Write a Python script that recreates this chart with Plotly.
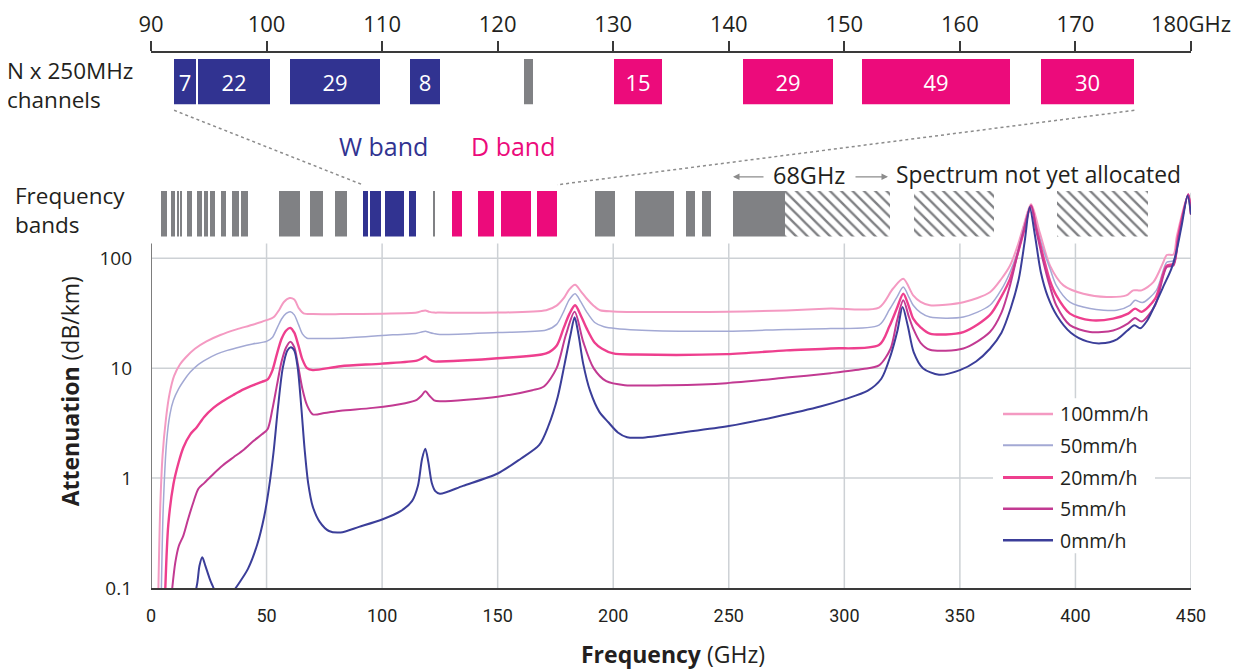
import plotly.graph_objects as go

# ---------------- data ----------------
rain_labels = ["100mm/h", "50mm/h", "20mm/h", "5mm/h", "0mm/h"]

freq_100 = [3.2, 4.0, 5, 6.5, 8, 10, 12.5, 15, 19, 24, 30, 37, 44, 50, 53, 55.5, 57.5, 60, 62, 64, 66, 70, 82,
            100, 115, 117, 118.7, 120.5, 122.5, 125, 150, 171, 175.5, 178.5, 181, 183.5, 186, 188.5, 191.5, 194.3,
            200, 249, 275, 294, 315, 321, 325.5, 329.8, 333, 337, 351.5, 363, 368, 371.7, 375, 377.5, 380.8,
            384.6, 389, 394.8, 403.4, 413.5, 422, 425, 428.6, 433.7, 438, 439.5, 442.4, 443.9, 448.8, 450]
att_100 = [0.1, 0.54, 1.6, 3.5, 5.8, 8.5, 10.8, 12.5, 15, 17.5, 20, 22.5, 24.8, 27.3, 29, 34, 40, 43.4, 42, 35,
           31.5, 31, 31, 31.3, 32, 33, 33.5, 32.5, 32, 32, 32, 33.6, 37, 43, 52, 57.3, 50, 43, 37, 33.6,
           32.8, 32.6, 33.5, 34.8, 35.5, 52.7, 64.9, 45.9, 40, 37.3, 39.8, 49, 65, 85.7, 130, 195, 309,
           170, 85.7, 56.6, 47.5, 44.4, 45.9, 51, 51, 60.5, 91.8, 107, 108, 160, 380, 250]

freq_50 = [4.5, 5.3, 6.8, 8.2, 9.7, 12, 14, 17, 19.8, 24, 28.4, 33, 38.5, 44, 50, 52.5, 54.5, 56.5, 58.5, 60.3,
           62, 63.8, 65.5, 67.5, 70, 82, 100, 115, 117, 118.7, 120.5, 122.5, 125, 150, 171, 175.5, 178.5, 181,
           183.5, 186, 188.5, 192, 196, 210, 249, 275, 294, 315, 319.5, 322.7, 325.5, 328, 329.8, 333, 337,
           351.5, 363, 368, 371.7, 375, 377.5, 380.8, 383, 386, 389, 391.7, 397.6, 406.3, 417.8, 423.6, 425.8,
           429, 435, 439.5, 442.4, 444.5, 448.8, 450]
att_50 = [0.1, 0.54, 2.2, 3.8, 5.1, 6.5, 7.6, 9.2, 10.5, 12, 13.4, 14.5, 15.6, 16.6, 17.5, 19, 23, 28, 31.5, 32.6,
          30.5, 25, 20.5, 18.7, 18.6, 18.7, 19.8, 20.8, 21.3, 21.7, 21.1, 20.6, 20.2, 21.1, 22.2, 25, 32.5, 42,
          47.5, 40, 32.5, 26, 23.8, 22.2, 21.7, 22.5, 22.9, 24.6, 34, 44, 54.6, 44, 37.3, 32, 29.2,
          29.2, 37.3, 52, 74.6, 115, 184, 300, 200, 121, 80, 56.6, 39.8, 34.8, 33.6, 37.3, 41.4,
          39.5, 51, 91.8, 95, 150, 380, 250]

freq_20 = [6.2, 7.5, 9.7, 12, 14, 17, 19.8, 23, 27, 31, 35.6, 40, 44.3, 48, 50.5, 52.5, 54.5, 56.5, 58.5, 60.3,
           62, 63.8, 65.5, 67.5, 70, 82, 100, 115, 117, 118.7, 120.5, 122.5, 125, 150, 171, 175.5, 178.5, 181,
           183.5, 186, 188.5, 192, 195, 200, 210, 249, 275, 294, 315, 319.5, 322.7, 325.5, 328, 329.8, 333,
           337, 351.5, 363, 368, 371.7, 375, 377.5, 380.8, 383, 386, 389, 391.7, 397.6, 406.3, 416.3, 422.8,
           425.8, 428.6, 434.5, 439.5, 442.4, 444.5, 448.8, 450]
att_20 = [0.1, 0.38, 0.88, 1.4, 1.9, 2.5, 2.9, 3.6, 4.35, 5.0, 5.7, 6.4, 7.0, 7.5, 7.9, 9.5, 13.5, 18.5, 22, 23.2,
          21, 16, 12, 10, 9.6, 10.4, 11, 11.7, 12.2, 12.8, 12.0, 11.5, 11.5, 12.3, 13.6, 16, 23, 31,
          37.3, 30, 23, 17, 15.1, 13.6, 13.3, 13.4, 14.5, 15.1, 16.2, 24, 34.8, 47.5, 36, 28.2, 23.5,
          20.6, 21.3, 30.5, 45, 64.9, 110, 170, 300, 190, 105, 62, 45.9, 31.3, 27.3, 28.2, 31.3,
          34.8, 32.5, 42.9, 85.7, 89, 160, 380, 250]

freq_5 = [9.2, 10.5, 12, 14, 16, 18.3, 20.5, 23, 27, 31, 35.6, 40, 44.3, 48, 50.5, 52.5, 54.5, 56.5, 58.5, 60.3,
          62, 63.5, 65.5, 67.5, 70, 75, 82, 96, 110, 115, 117, 118.7, 120.5, 122.5, 125, 150, 165, 170, 175.5,
          179.5, 183.3, 187, 191.5, 197, 205, 225, 249, 275, 294, 308, 315, 320, 322.7, 325.5, 328, 329.8, 333,
          337, 351.5, 363, 368, 371.7, 375, 377.5, 380.8, 383, 386, 389, 391.7, 397.6, 406.3, 416.3, 422.8,
          425.8, 428.6, 434.5, 439.5, 442.4, 444.5, 448.8, 450]
att_5 = [0.1, 0.17, 0.24, 0.3, 0.42, 0.6, 0.8, 0.9, 1.09, 1.3, 1.54, 1.8, 2.17, 2.5, 2.8, 4.2, 7, 11.5, 15.5, 17.4,
         15.5, 11, 6.5, 4.6, 3.8, 3.9, 4.1, 4.35, 4.8, 5.15, 5.6, 6.15, 5.6, 5.1, 5.0, 5.5, 6.3, 6.8, 10,
         20, 32.5, 17.4, 10, 7.6, 7.0, 7.0, 7.3, 8.2, 9.0, 9.8, 10.6, 15, 26.4, 41.4, 29, 22.9, 17,
         14.7, 15.1, 21.3, 32, 56.6, 110, 175, 300, 180, 95, 55, 37.3, 24.6, 21.3, 22, 25.5,
         28.6, 26.5, 37.3, 83, 85.7, 150, 380, 250]

freq_0 = [18, 20, 21, 22.2, 23.5, 25.5, 27.5, 30, 35, 38, 42, 46, 49, 51, 53, 55, 57, 59, 60.5, 62, 63.5, 65,
          66.5, 68, 70, 73, 77, 82, 90, 100, 108, 113, 115.5, 117.3, 118.7, 120, 121.5, 123, 125, 135, 150,
          160, 168, 172, 176, 179, 181.5, 183.3, 185, 187, 190, 194, 198, 202, 206, 212, 230, 250, 270, 290,
          300, 310, 316, 320, 323, 325.2, 327.5, 330, 334, 341, 350, 357, 363, 368, 372, 375.5, 378, 380.2,
          382.5, 385, 388, 392, 398, 405, 411, 418, 422.5, 425.5, 428, 431, 435, 438.5, 441.5, 443.5, 446,
          448.5, 450]
att_0 = [0.07, 0.11, 0.16, 0.19, 0.16, 0.12, 0.095, 0.07, 0.09, 0.11, 0.15, 0.25, 0.45, 0.8, 1.7, 4.5, 10, 14.5,
         15.5, 14.5, 10, 4.5, 1.8, 0.9, 0.55, 0.4, 0.33, 0.32, 0.36, 0.42, 0.5, 0.62, 0.85, 1.5, 1.85, 1.4,
         0.9, 0.76, 0.72, 0.85, 1.1, 1.5, 2.0, 3.0, 5.5, 11, 20, 29, 20, 11, 6.2, 4, 3.2, 2.6, 2.35, 2.33,
         2.6, 2.97, 3.6, 4.5, 5.2, 6.2, 8, 13, 22, 36, 24, 14, 10, 8.7, 9.6, 11.5, 15, 21, 35, 65, 140, 290,
         160, 75, 45, 30, 21, 17.5, 16.8, 18.3, 22, 24.6, 23, 27, 40, 58, 80, 110, 200, 370, 250]

# frequency-band allocations on the main axis (GHz)
gray_band_lo = [4.2, 8.5, 11.1, 12.5, 15.6, 19.9, 22.8, 25.5, 30.4, 34.9, 39.1, 55.5, 68.9, 79.6,
                122.2, 192.1, 209.4, 231.3, 238.2, 251.9]
gray_band_hi = [7.0, 10.5, 12.0, 13.4, 17.9, 22.2, 24.8, 27.7, 32.6, 38.2, 42.0, 64.6, 74.6, 84.7,
                123.0, 200.6, 226.1, 235.3, 242.1, 274.5]
w_band_lo = [91.6, 94.6, 101.1, 111.8]
w_band_hi = [93.9, 99.5, 109.6, 114.5]
d_band_lo = [130.1, 141.6, 151.6, 167.2]
d_band_hi = [134.4, 148.5, 164.3, 175.7]
unalloc_lo = [274.5, 330.1, 392.2]
unalloc_hi = [319.6, 364.9, 431.5]

# channel groups on the zoomed top axis (GHz), N x 250MHz channels
w_chan_lo = [92.0, 94.1, 102.0, 112.4]
w_chan_hi = [93.9, 100.3, 109.8, 115.0]
w_chan_n = [7, 22, 29, 8]
other_chan_lo = [122.3]
other_chan_hi = [123.1]
d_chan_lo = [130.1, 141.2, 151.5, 167.0]
d_chan_hi = [134.2, 149.0, 164.3, 175.1]
d_chan_n = [15, 29, 49, 30]

x_ticks = [0, 50, 100, 150, 200, 250, 300, 350, 400, 450]
top_ticks = [90, 100, 110, 120, 130, 140, 150, 160, 170, 180]
top_tick_text = ["90", "100", "110", "120", "130", "140", "150", "160", "170", "180GHz"]
y_ticks = [0.1, 1, 10, 100]
y_tick_text = ["0.1", "1", "10", "100"]

# ---------------- styling ----------------
TXT = "#231f20"
C100, C50, C20, C5, C0 = "#F49AC2", "#A3A9D4", "#EE3F8E", "#C23A92", "#3B3E99"
W_BLUE, D_PINK, GRAY = "#313391", "#EC0B7B", "#808184"
GRID = "#cdd1d5"
FONT = "Open Sans"

# page has an 8px body margin: figure is placed at (8, 8) in the window
OFF = 8
W, H = 1243 - OFF, 670 - OFF
BOTTOM = 588                      # page y of the 0.1 dB/km baseline
LEFT = 151                        # page x of 0 GHz
PW = 1040
PH = BOTTOM - OFF
ML, MT = LEFT - OFF, 0
MR, MB = W - ML - PW, H - PH
DEC = 110.7                       # pixels per decade on the log axis
Y_LO = -1
Y_HI = Y_LO + (BOTTOM - 185) / DEC


def px(p):          # page x -> paper
    return (p - LEFT) / PW


def py(p):          # page y -> paper
    return (BOTTOM - p) / PH


def xval(p):        # page x -> main axis GHz
    return (p - LEFT) / PW * 450


def yval(p):        # page y -> main axis dB/km
    return 10 ** (Y_LO + (BOTTOM - p) / DEC)


series = [
    ("100mm/h", freq_100, att_100, C100, 2.0),
    ("50mm/h", freq_50, att_50, C50, 1.5),
    ("20mm/h", freq_20, att_20, C20, 2.4),
    ("5mm/h", freq_5, att_5, C5, 2.0),
    ("0mm/h", freq_0, att_0, C0, 2.0),
]

fig = go.Figure()

for name, f, a, c, w in series:
    fig.add_trace(go.Scatter(x=f, y=a, mode="lines", name=name, xaxis="x", yaxis="y",
                             line=dict(color=c, width=w, shape="spline", smoothing=0.8),
                             hoverinfo="x+y+name"))


def bars(lo, hi, color, xa, ya, text=None, pattern=None):
    centers = [(a + b) / 2 for a, b in zip(lo, hi)]
    widths = [b - a for a, b in zip(lo, hi)]
    marker = dict(color=color, line=dict(width=0))
    if pattern:
        marker["pattern"] = pattern
    return go.Bar(x=centers, y=[1] * len(lo), base=0, width=widths, xaxis=xa, yaxis=ya,
                  marker=marker, text=text, textposition="inside" if text else "none",
                  insidetextanchor="middle", textangle=0, constraintext="none",
                  textfont=dict(color="white", size=22, family=FONT),
                  showlegend=False, hoverinfo="skip")


# frequency bands row
fig.add_trace(bars(gray_band_lo, gray_band_hi, GRAY, "x", "y2"))
fig.add_trace(bars(w_band_lo, w_band_hi, W_BLUE, "x", "y2"))
fig.add_trace(bars(d_band_lo, d_band_hi, D_PINK, "x", "y2"))
fig.add_trace(bars(unalloc_lo, unalloc_hi, GRAY, "x", "y2",
                   pattern=dict(shape="\\", fgcolor="#808184", bgcolor="white",
                                size=8, solidity=0.3, fillmode="replace")))

# channel row
fig.add_trace(bars(w_chan_lo, w_chan_hi, W_BLUE, "x2", "y3", text=[str(n) for n in w_chan_n]))
fig.add_trace(bars(other_chan_lo, other_chan_hi, GRAY, "x2", "y3"))
fig.add_trace(bars(d_chan_lo, d_chan_hi, D_PINK, "x2", "y3", text=[str(n) for n in d_chan_n]))

shapes = []
# grid lines
top_grid = yval(241)
for v in x_ticks[1:-1]:
    shapes.append(dict(type="line", xref="x", yref="y", x0=v, x1=v, y0=0.1, y1=top_grid,
                       line=dict(color=GRID, width=1.5), layer="below"))
shapes.append(dict(type="line", xref="x", yref="y", x0=450, x1=450, y0=0.1, y1=yval(190),
                   line=dict(color=GRID, width=1.5), layer="below"))
for v in y_ticks[1:]:
    shapes.append(dict(type="line", xref="x", yref="y", x0=0, x1=450, y0=v, y1=v,
                       line=dict(color=GRID, width=1.5), layer="below"))
# left axis line
shapes.append(dict(type="line", xref="x", yref="y", x0=0, x1=0, y0=0.1, y1=top_grid,
                   line=dict(color="#7d7d7d", width=2), layer="below"))
# legend box
shapes.append(dict(type="rect", xref="x", yref="y", x0=xval(993), x1=xval(1155),
                   y0=yval(553), y1=yval(397), fillcolor="white", line=dict(width=0), layer="below"))
legend_rows = [412.7, 444.3, 476.7, 508.3, 540.0]
for (name, f, a, c, w), r in zip(series, legend_rows):
    shapes.append(dict(type="line", xref="x", yref="y", x0=xval(1003), x1=xval(1053),
                       y0=yval(r), y1=yval(r), line=dict(color=c, width=w + 0.5), layer="below"))
# dotted connectors between channel row and band row
shapes.append(dict(type="line", xref="paper", yref="paper",
                   x0=(w_chan_lo[0] - 90) / 90, y0=py(107), x1=w_band_lo[0] / 450, y1=py(182),
                   line=dict(color="#8c8c8c", width=1.5, dash="dot"), layer="above"))
shapes.append(dict(type="line", xref="paper", yref="paper",
                   x0=(d_chan_hi[-1] - 90) / 90, y0=py(107), x1=d_band_hi[-1] / 450, y1=py(182),
                   line=dict(color="#8c8c8c", width=1.5, dash="dot"), layer="above"))

ann = []


def text(t, x, y, size=21, color=TXT, xanchor="left", angle=0, family=FONT, align="left"):
    ann.append(dict(text=t, x=x, y=y, xref="paper", yref="paper", showarrow=False,
                    xanchor=xanchor, yanchor="middle", textangle=angle, align=align,
                    font=dict(size=size, color=color, family=family)))


text("N x 250MHz<br>channels", px(5), py(82), size=22.5)
text("Frequency<br>bands", px(13), py(207), size=22.5)
text("W band", px(383.5), py(143), size=25, color=W_BLUE, xanchor="center")
text("D band", px(513), py(143), size=25, color=D_PINK, xanchor="center")
text("68GHz", px(808.5), py(172), size=23.5, xanchor="center")
text("Spectrum not yet allocated", px(894), py(172), size=22.8)
for (name, f, a, c, w), r in zip(series, legend_rows):
    text(name, px(1058), py(r), size=19.5)
text("<b>Attenuation</b> (dB/km)", px(70), py(390), size=23, xanchor="center", angle=-90)
text("<b>Frequency</b> (GHz)", px(673), py(654), size=23, xanchor="center")
# arrows around 68GHz
ann.append(dict(text="", x=px(733), y=py(174), xref="paper", yref="paper", showarrow=True,
                ax=32, ay=0, arrowhead=2, arrowsize=1, arrowwidth=1.3, arrowcolor="#8c8c8c"))
ann.append(dict(text="", x=px(888), y=py(174), xref="paper", yref="paper", showarrow=True,
                ax=-34, ay=0, arrowhead=2, arrowsize=1, arrowwidth=1.3, arrowcolor="#8c8c8c"))

fig.update_layout(
    width=W, height=H, margin=dict(l=ML, r=MR, t=MT, b=MB),
    paper_bgcolor="white", plot_bgcolor="rgba(0,0,0,0)",
    barmode="overlay", bargap=0, showlegend=False,
    font=dict(family=FONT, color=TXT),
    shapes=shapes, annotations=ann,
    xaxis=dict(domain=[0, 1], range=[0, 450], anchor="y", tickvals=x_ticks, ticks="",
               showgrid=False, zeroline=False, showline=True, linecolor="#3a3a3a", linewidth=2,
               tickfont=dict(family="Roboto", size=18, color=TXT), ticklabelstandoff=10,
               fixedrange=True),
    yaxis=dict(domain=[0, py(185)], type="log", range=[Y_LO, Y_HI], anchor="x",
               tickvals=y_ticks, ticktext=y_tick_text, ticks="", showgrid=False, zeroline=False,
               showline=False, tickfont=dict(size=19, color=TXT), ticklabelstandoff=18,
               fixedrange=True),
    yaxis2=dict(domain=[py(234), py(188)], range=[0, 1], visible=False, anchor="x", fixedrange=True),
    xaxis2=dict(domain=[0, 1], range=[90, 180], anchor="y3", side="top", tickvals=top_ticks,
                ticktext=top_tick_text, ticks="outside", ticklen=10, tickwidth=2, tickcolor="#3a3a3a",
                showline=True, linecolor="#3a3a3a", linewidth=2, showgrid=False, zeroline=False,
                tickfont=dict(size=22, color=TXT), fixedrange=True),
    yaxis3=dict(domain=[py(101), py(49)], range=[0, 52 / 46], visible=False, anchor="x2",
                fixedrange=True),
)

fig.write_html("out.html")
